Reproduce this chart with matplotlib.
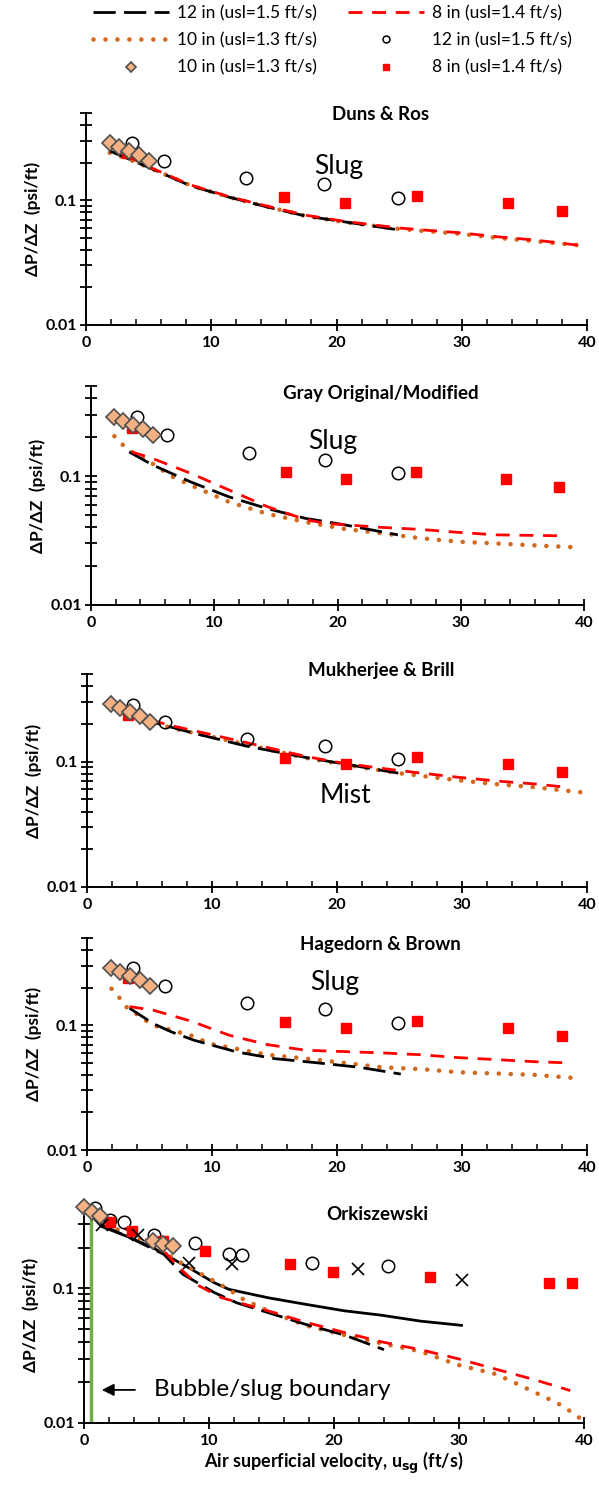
import matplotlib
matplotlib.use("Agg")
import matplotlib.pyplot as plt
from matplotlib.ticker import FixedLocator, FixedFormatter, MultipleLocator, LogLocator, NullFormatter
from matplotlib.lines import Line2D

plt.rcParams['font.family'] = ['Lato', 'DejaVu Sans']

# ---------------- data ----------------
titles = ["Duns & Ros", "Gray Original/Modified", "Mukherjee & Brill", "Hagedorn & Brown", "Orkiszewski"]

# experimental points (panels 1-4)
exp12_x = [3.7, 6.2, 12.8, 19.0, 24.9]
exp12_y = [0.285, 0.207, 0.152, 0.134, 0.105]
exp8_x = [3.3, 15.8, 20.7, 26.4, 33.7, 38.0]
exp8_y = [0.237, 0.107, 0.095, 0.108, 0.095, 0.082]
exp10_x = [1.9, 2.6, 3.4, 4.2, 5.0]
exp10_y = [0.288, 0.267, 0.250, 0.232, 0.207]

# experimental points (Orkiszewski panel)
ork_exp12_x = [0.9, 2.1, 3.2, 5.6, 8.9, 11.6, 12.6, 18.2, 24.3]
ork_exp12_y = [0.39, 0.32, 0.31, 0.25, 0.215, 0.18, 0.175, 0.155, 0.145]
ork_exp8_x = [2.1, 3.8, 6.3, 9.7, 16.5, 19.9, 27.7, 37.2, 39.0]
ork_exp8_y = [0.31, 0.267, 0.223, 0.19, 0.152, 0.132, 0.12, 0.109, 0.109]
ork_exp10_x = [0.0, 0.6, 1.3, 5.5, 6.3, 7.1]
ork_exp10_y = [0.40, 0.37, 0.345, 0.225, 0.213, 0.205]
ork_cross_x = [1.4, 4.3, 8.4, 11.8, 21.9, 30.2]
ork_cross_y = [0.295, 0.25, 0.155, 0.152, 0.138, 0.115]

# model lines: 12 in (black dashed), 8 in (red dashed), 10 in (orange dotted)
p1_12_x = [1.9, 5.3, 8.3, 11.4, 14.4, 17.5, 20.5, 24.9]
p1_12_y = [0.248, 0.178, 0.131, 0.106, 0.0886, 0.0748, 0.0674, 0.058]
p1_8_x = [3.3, 5.3, 8.3, 11.4, 14.4, 17.5, 20.5, 24.9, 26.7, 29.7, 32.8, 35.8, 39.4]
p1_8_y = [0.225, 0.18, 0.133, 0.107, 0.090, 0.076, 0.068, 0.060, 0.058, 0.055, 0.051, 0.048, 0.0435]
p1_10_x = [1.9, 3.3, 5.3, 8.3, 11.4, 14.4, 17.5, 20.5, 24.9, 26.7, 29.7, 32.8, 35.8, 39.4]
p1_10_y = [0.24, 0.215, 0.178, 0.132, 0.106, 0.089, 0.075, 0.067, 0.059, 0.057, 0.054, 0.050, 0.047, 0.0435]

p2_12_x = [3.1, 5.0, 8.1, 11.2, 14.3, 17.4, 20.5, 24.9]
p2_12_y = [0.154, 0.122, 0.090, 0.069, 0.056, 0.047, 0.042, 0.035]
p2_8_x = [3.3, 5.0, 8.1, 11.2, 14.3, 17.4, 19.0, 20.5, 23.6, 26.7, 29.8, 32.9, 38.4]
p2_8_y = [0.154, 0.137, 0.105, 0.078, 0.058, 0.046, 0.043, 0.042, 0.040, 0.0386, 0.0366, 0.035, 0.0344]
p2_10_x = [1.9, 2.6, 3.3, 5.0, 6.5, 8.1, 11.2, 14.3, 17.4, 20.5, 23.6, 26.7, 29.8, 32.9, 36.0, 39.4]
p2_10_y = [0.204, 0.174, 0.154, 0.125, 0.100, 0.085, 0.063, 0.051, 0.044, 0.039, 0.036, 0.033, 0.031, 0.030, 0.029, 0.028]

p3_12_x = [1.9, 5.3, 8.3, 12.6, 17.5, 20.5, 24.9]
p3_12_y = [0.27, 0.206, 0.171, 0.134, 0.108, 0.096, 0.081]
p3_8_x = [3.3, 6.8, 8.3, 12.6, 17.5, 20.5, 24.9, 29.7, 32.8, 35.8, 38.0]
p3_8_y = [0.24, 0.193, 0.179, 0.143, 0.110, 0.097, 0.085, 0.075, 0.070, 0.0664, 0.063]
p3_10_x = [1.9, 3.3, 6.8, 11.4, 17.5, 20.5, 24.9, 29.7, 32.8, 35.8, 39.5]
p3_10_y = [0.27, 0.235, 0.185, 0.147, 0.107, 0.095, 0.081, 0.071, 0.066, 0.0625, 0.057]

p4_12_x = [3.4, 5.3, 6.8, 8.6, 12.0, 15.0, 18.4, 21.8, 25.1]
p4_12_y = [0.137, 0.103, 0.088, 0.0756, 0.061, 0.054, 0.050, 0.046, 0.0406]
p4_8_x = [3.4, 5.3, 8.3, 11.4, 14.4, 17.5, 20.5, 23.6, 26.7, 29.7, 32.8, 35.8, 38.3]
p4_8_y = [0.141, 0.132, 0.108, 0.083, 0.070, 0.063, 0.0615, 0.060, 0.058, 0.055, 0.053, 0.051, 0.050]
p4_10_x = [1.96, 2.57, 3.1, 5.26, 8.3, 9.85, 14.4, 17.5, 20.5, 23.6, 26.7, 29.7, 32.8, 35.8, 39.5]
p4_10_y = [0.196, 0.167, 0.141, 0.100, 0.083, 0.071, 0.058, 0.054, 0.050, 0.046, 0.0445, 0.042, 0.041, 0.040, 0.0374]

p5_12_x = [1.4, 4.0, 6.4, 7.9, 9.5, 10.4, 12.2, 14.7, 17.7, 20.8, 24.0]
p5_12_y = [0.295, 0.229, 0.178, 0.127, 0.104, 0.093, 0.078, 0.066, 0.054, 0.045, 0.035]
p5_8_x = [1.5, 4.0, 6.4, 7.9, 9.2, 11.0, 14.7, 17.7, 20.8, 23.8, 26.9, 29.9, 33.0, 36.0, 38.9]
p5_8_y = [0.33, 0.257, 0.188, 0.134, 0.104, 0.085, 0.068, 0.056, 0.047, 0.040, 0.035, 0.030, 0.025, 0.021, 0.0174]
p5_10_x = [1.0, 2.4, 5.5, 7.3, 9.2, 10.4, 11.6, 12.5, 14.7, 17.7, 20.8, 23.8, 26.9, 29.9, 33.0, 36.0, 37.9, 39.1, 40.0]
p5_10_y = [0.33, 0.279, 0.211, 0.163, 0.130, 0.113, 0.098, 0.085, 0.068, 0.053, 0.045, 0.039, 0.034, 0.027, 0.023, 0.017, 0.014, 0.0119, 0.0103]
p5_solid_x = [0.8, 1.4, 3.4, 5.5, 6.7, 8.6, 10.4, 11.6, 14.7, 17.7, 20.8, 23.8, 26.9, 30.2]
p5_solid_y = [0.33, 0.287, 0.243, 0.200, 0.173, 0.138, 0.110, 0.098, 0.085, 0.076, 0.068, 0.063, 0.057, 0.053]

boundary_x = 0.55

legend_labels = ["12 in (usl=1.5 ft/s)", "10 in (usl=1.3 ft/s)", "10 in (usl=1.3 ft/s)",
                 "8 in (usl=1.4 ft/s)", "12 in (usl=1.5 ft/s)", "8 in (usl=1.4 ft/s)"]

# ---------------- styles ----------------
BLACK_DASH = dict(color='black', lw=2.0, linestyle=(0, (8, 3)))
RED_DASH = dict(color='#FF0000', lw=2.0, linestyle=(0, (5, 3.5)))
ORANGE_DOT = dict(color='#D2691E', lw=3.3, linestyle=(0, (0.01, 2.6)), dash_capstyle='round')
CIRC = dict(marker='o', ms=9, mfc='none', mec='black', mew=1.1, ls='none')
SQ = dict(marker='s', ms=7, mfc='#FF0000', mec='#FF0000', ls='none')
DIA = dict(marker='D', ms=8, mfc='#F4B183', mec='#505050', mew=1.2, ls='none')

W, H = 599, 1487
fig = plt.figure(figsize=(W / 100, H / 100), dpi=100)

# axes pixel boxes: left, right, top, bottom
boxes = [(86, 587, 113, 325), (91, 584, 386, 605), (87, 587, 674, 887),
         (87, 587, 938, 1150), (84, 584, 1207, 1423)]
ytops = [0.5, 0.5, 0.5, 0.5, 0.4]

axes = []
for (l, r, t, b) in boxes:
    ax = fig.add_axes([l / W, (H - b) / H, (r - l) / W, (b - t) / H])
    axes.append(ax)

lines_data = [
    (p1_12_x, p1_12_y, p1_8_x, p1_8_y, p1_10_x, p1_10_y),
    (p2_12_x, p2_12_y, p2_8_x, p2_8_y, p2_10_x, p2_10_y),
    (p3_12_x, p3_12_y, p3_8_x, p3_8_y, p3_10_x, p3_10_y),
    (p4_12_x, p4_12_y, p4_8_x, p4_8_y, p4_10_x, p4_10_y),
    (p5_12_x, p5_12_y, p5_8_x, p5_8_y, p5_10_x, p5_10_y),
]

title_y = [0.483, 0.437, 0.53, 0.445, 0.35]

for i, ax in enumerate(axes):
    x12, y12, x8, y8, x10, y10 = lines_data[i]
    ax.set_yscale('log')
    ax.set_xlim(0, 40)
    ax.set_ylim(0.01, ytops[i])
    if i == 4:
        ax.plot([boundary_x, boundary_x], [0.01, 0.38], color='#70AD47', lw=2.5, zorder=2)
        ax.plot(p5_solid_x, p5_solid_y, color='black', lw=2.0, zorder=3)
    ax.plot(x10, y10, **ORANGE_DOT, zorder=3)
    ax.plot(x12, y12, **BLACK_DASH, zorder=3)
    ax.plot(x8, y8, **RED_DASH, zorder=3)
    if i < 4:
        ax.plot(exp12_x, exp12_y, **CIRC, zorder=4, clip_on=False)
        ax.plot(exp8_x, exp8_y, **SQ, zorder=4, clip_on=False)
        ax.plot(exp10_x, exp10_y, **DIA, zorder=5, clip_on=False)
    else:
        ax.plot(ork_exp12_x, ork_exp12_y, **CIRC, zorder=4, clip_on=False)
        ax.plot(ork_exp8_x, ork_exp8_y, **SQ, zorder=4, clip_on=False)
        ax.plot(ork_cross_x, ork_cross_y, marker='x', ms=8, mec='black', mew=1.2, ls='none', zorder=4)
        ax.plot(ork_exp10_x, ork_exp10_y, **DIA, zorder=5, clip_on=False)

    for s in ['top', 'right']:
        ax.spines[s].set_visible(False)
    for s in ['left', 'bottom']:
        ax.spines[s].set_linewidth(1.4)

    ax.yaxis.set_major_locator(FixedLocator([0.01, 0.1]))
    ax.yaxis.set_major_formatter(FixedFormatter(['0.01', '0.1']))
    ax.yaxis.set_minor_locator(LogLocator(base=10, subs=range(2, 10), numticks=10))
    ax.yaxis.set_minor_formatter(NullFormatter())
    ax.xaxis.set_major_locator(MultipleLocator(10))
    ax.xaxis.set_minor_locator(MultipleLocator(2))
    ax.tick_params(axis='y', which='both', direction='inout', length=9, width=1.3, labelsize=11.5, pad=2)
    ax.tick_params(axis='x', which='major', direction='inout', length=8, width=1.3, labelsize=11.5, pad=4)
    ax.tick_params(axis='x', which='minor', direction='in', length=4, width=1.1)
    for lab in ax.get_xticklabels() + ax.get_yticklabels():
        lab.set_fontweight('bold')

    ax.set_ylabel('ΔP/ΔZ  (psi/ft)', fontsize=12.5, fontweight='bold', labelpad=3)
    ax.text(23.5, title_y[i], titles[i], fontsize=13.5, fontweight='bold', ha='center', va='center')

axes[0].text(20.2, 0.185, 'Slug', fontsize=19, ha='center', va='center')
axes[1].text(19.6, 0.185, 'Slug', fontsize=19, ha='center', va='center')
axes[2].text(20.7, 0.054, 'Mist', fontsize=19, ha='center', va='center')
axes[3].text(19.8, 0.218, 'Slug', fontsize=19, ha='center', va='center')
axes[4].annotate('', xy=(1.2, 0.0176), xytext=(4.3, 0.0176),
                 arrowprops=dict(arrowstyle='-|>', color='black', lw=1.3, mutation_scale=18))
axes[4].text(5.6, 0.0176, 'Bubble/slug boundary', fontsize=17.5, ha='left', va='center')
axes[4].set_xlabel('Air superficial velocity, u$_\\mathbf{sg}$ (ft/s)', fontsize=13, fontweight='bold', labelpad=1)

# legend
handles = [
    Line2D([], [], **BLACK_DASH),
    Line2D([], [], **ORANGE_DOT),
    Line2D([], [], marker='D', ms=5, mfc='#F4B183', mec='#505050', mew=1.2, ls='none'),
    Line2D([], [], **RED_DASH),
    Line2D([], [], marker='o', ms=5, mfc='none', mec='black', mew=1.1, ls='none'),
    Line2D([], [], marker='s', ms=5, mfc='#FF0000', mec='#FF0000', ls='none'),
]
fig.legend(handles, legend_labels, ncol=2, loc='upper center', bbox_to_anchor=(0.555, 0.999),
           frameon=False, fontsize=12.5, handlelength=4.4, handletextpad=0.45, columnspacing=1.8,
           labelspacing=0.65, borderaxespad=0, borderpad=0.2)

fig.savefig('out.png', dpi=100)
